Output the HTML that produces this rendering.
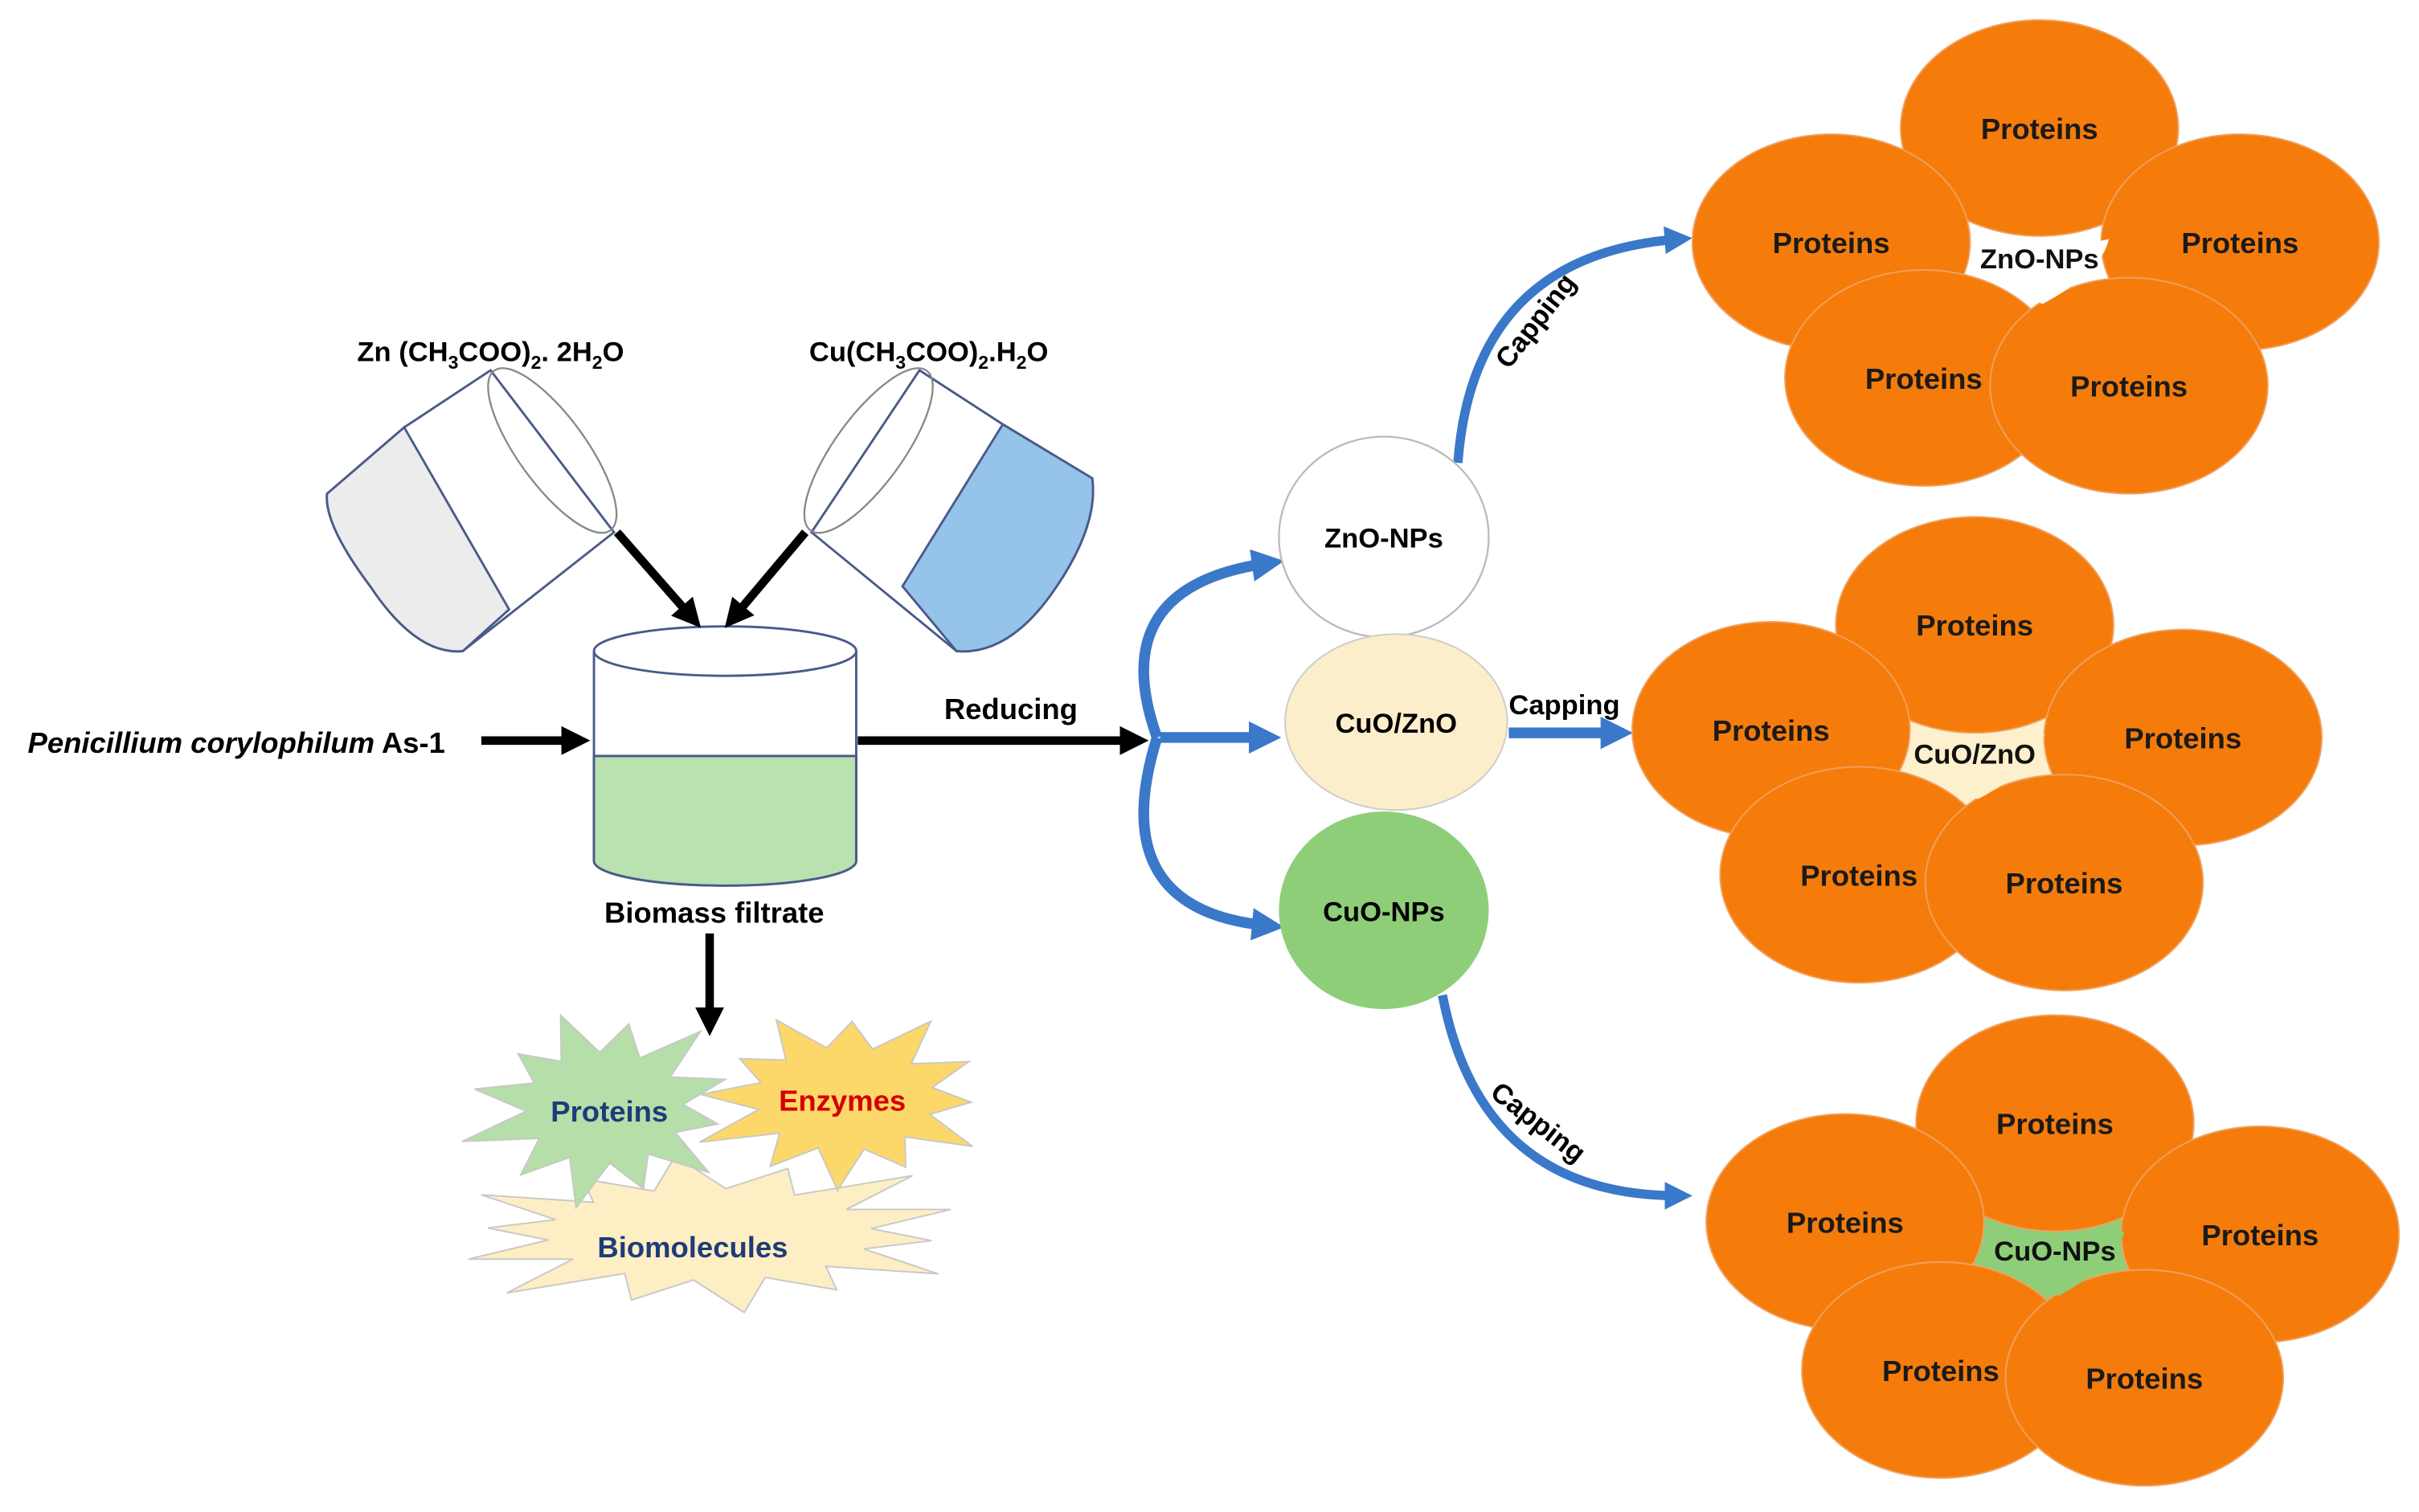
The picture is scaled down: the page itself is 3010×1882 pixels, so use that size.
<!DOCTYPE html>
<html><head><meta charset="utf-8"><style>
html,body{margin:0;padding:0;background:#fff}
svg{display:block}
text{font-family:"Liberation Sans",Arial,sans-serif;font-weight:bold}
</style></head><body>
<svg id="s" width="3010" height="1882" viewBox="0 0 1568 980" preserveAspectRatio="none" xmlns="http://www.w3.org/2000/svg">
<defs>
<marker id="ab" markerWidth="3.4" markerHeight="3.4" refX="2.2" refY="1.7" orient="auto" markerUnits="strokeWidth"><path d="M0,0 L3.4,1.7 L0,3.4 z" fill="#000"/></marker>
<marker id="abl" markerWidth="3" markerHeight="3" refX="1.5" refY="1.5" orient="auto" markerUnits="strokeWidth"><path d="M0,0 L3,1.5 L0,3 z" fill="#3a78c9"/></marker>
</defs>
<g id="stars"></g>

<!-- Left beaker -->
<path d="M262,277 L318,240 L398,345 L300,422 Q270,425 240,380 Q210,340 212,320 Z" fill="#fff" stroke="#4a5a8a" stroke-width="1.5"/>
<path d="M262,277 L330,395 L300,422 Q270,425 240,380 Q210,340 212,320 Z" fill="#ececec" stroke="#4a5a8a" stroke-width="1.5"/>
<ellipse cx="358" cy="292" rx="22" ry="64" transform="rotate(-36 358 292)" fill="none" stroke="#888" stroke-width="1.2"/>
<!-- Right beaker -->
<path d="M650,275 L596,240 L526,345 L620,422 Q655,425 685,380 Q712,340 708,310 Z" fill="#fff" stroke="#4a5a8a" stroke-width="1.5"/>
<path d="M650,275 L585,380 L620,422 Q655,425 685,380 Q712,340 708,310 Z" fill="#95c3ea" stroke="#4a5a8a" stroke-width="1.5"/>
<ellipse cx="563" cy="292" rx="22" ry="64" transform="rotate(36 563 292)" fill="none" stroke="#888" stroke-width="1.2"/>
<text x="318" y="234" font-size="18" text-anchor="middle">Zn (CH<tspan font-size="12" dy="5">3</tspan><tspan dy="-5">COO)</tspan><tspan font-size="12" dy="5">2</tspan><tspan dy="-5">. 2H</tspan><tspan font-size="12" dy="5">2</tspan><tspan dy="-5">O</tspan></text>
<text x="602" y="234" font-size="18" text-anchor="middle">Cu(CH<tspan font-size="12" dy="5">3</tspan><tspan dy="-5">COO)</tspan><tspan font-size="12" dy="5">2</tspan><tspan dy="-5">.H</tspan><tspan font-size="12" dy="5">2</tspan><tspan dy="-5">O</tspan></text>

<!-- cylinder -->
<path d="M385,422 L385,558 A85,16 0 0 0 555,558 L555,422" fill="#fff" stroke="#4a5a8a" stroke-width="1.5"/>
<path d="M385,490 L385,558 A85,16 0 0 0 555,558 L555,490 Z" fill="#b9e2b0" stroke="#4a5a8a" stroke-width="1.5"/>
<ellipse cx="470" cy="422" rx="85" ry="16" fill="#fff" stroke="#4a5a8a" stroke-width="1.5"/>

<!-- black arrows -->
<g stroke="#000" stroke-width="5.5" fill="none">
<line x1="400" y1="345" x2="450" y2="402" marker-end="url(#ab)"/>
<line x1="522" y1="345" x2="474" y2="402" marker-end="url(#ab)"/>
<line x1="312" y1="480" x2="376" y2="480" marker-end="url(#ab)"/>
<line x1="556" y1="480" x2="738" y2="480" marker-end="url(#ab)"/>
<line x1="460" y1="605" x2="460" y2="665" marker-end="url(#ab)"/>
</g>
<text x="18" y="488" font-size="19"><tspan font-style="italic">Penicillium corylophilum</tspan> As-1</text>
<text x="612" y="466" font-size="19">Reducing</text>
<text x="463" y="598" font-size="19" text-anchor="middle">Biomass filtrate</text>

<!-- blue arrows -->
<g fill="none" stroke="#3a78c9">
<path d="M750,478 Q715,380 822,365" stroke-width="7" marker-end="url(#abl)"/>
<path d="M750,478 Q715,590 822,600" stroke-width="7" marker-end="url(#abl)"/>
<line x1="752" y1="478" x2="820" y2="478" stroke-width="7" marker-end="url(#abl)"/>
<path d="M945,300 Q955,165 1088,155" stroke-width="6" marker-end="url(#abl)"/>
<line x1="978" y1="475" x2="1048" y2="475" stroke-width="7" marker-end="url(#abl)"/>
<path d="M935,645 Q960,775 1088,775" stroke-width="6" marker-end="url(#abl)"/>
</g>
<text font-size="18" transform="translate(978,240) rotate(-52)">Capping</text>
<text x="978" y="463" font-size="18">Capping</text>
<text font-size="18" transform="translate(965,710) rotate(38)">Capping</text>

<!-- small circles -->
<ellipse cx="897" cy="348" rx="68" ry="65" fill="#fff" stroke="#bbb" stroke-width="1.2"/>
<ellipse cx="905" cy="468" rx="72" ry="57" fill="#fdeecb" stroke="#ccc" stroke-width="1"/>
<ellipse cx="897" cy="590" rx="68" ry="64" fill="#8fce79"/>
<text x="897" y="355" font-size="18" text-anchor="middle">ZnO-NPs</text>
<text x="905" y="475" font-size="18" text-anchor="middle">CuO/ZnO</text>
<text x="897" y="597" font-size="18" text-anchor="middle">CuO-NPs</text>

<g id="flowers"></g>
</svg>
<script>
var NS="http://www.w3.org/2000/svg";
function el(p,n,a,t){var e=document.createElementNS(NS,n);for(var k in a)e.setAttribute(k,a[k]);if(t)e.textContent=t;p.appendChild(e);return e;}
var st=document.getElementById('stars');
function star(cx,cy,rx,ry,n,inner,fill,rot){var pts=[];for(var i=0;i<2*n;i++){var a=rot+Math.PI*i/n;var r=(i%2==0)?1:inner;var j=(i%2==0)?(0.85+0.3*((i*37)%7)/7):1;pts.push((cx+rx*r*j*Math.cos(a)).toFixed(1)+","+(cy+ry*r*j*Math.sin(a)).toFixed(1));}
el(st,'polygon',{points:pts.join(' '),fill:fill,stroke:'#c8c8c8','stroke-width':1});}
star(460,800,170,48,14,0.62,'#fdeec4',0.1);
star(392,718,88,62,12,0.58,'#b5dea8',0.2);
star(548,712,96,56,12,0.6,'#fcd86a',0.05);
el(st,'text',{x:395,y:727,'font-size':19,'text-anchor':'middle',fill:'#1f3b78'},'Proteins');
el(st,'text',{x:546,y:720,'font-size':19,'text-anchor':'middle',fill:'#d40000'},'Enzymes');
el(st,'text',{x:449,y:815,'font-size':19,'text-anchor':'middle',fill:'#1f3b78'},'Biomolecules');
var fl=document.getElementById('flowers');
function flower(c,cx,cy,lab,cfill){
 el(fl,'ellipse',{cx:cx,cy:cy,rx:55,ry:40,fill:cfill});
 c.forEach(function(p){el(fl,'ellipse',{cx:p[0],cy:p[1],rx:90,ry:70,fill:'#f57c0a',stroke:'#f0a060','stroke-width':1});});
 el(fl,'path',{d:'M'+(cx-42)+','+(cy-12)+' Q'+cx+','+(cy-2)+' '+(cx+45)+','+(cy-12)+' Q'+(cx+40)+','+(cy+10)+' '+(cx+2)+','+(cy+30)+' Q'+(cx-35)+','+(cy+10)+' '+(cx-42)+','+(cy-12)+'Z',fill:cfill});
 c.forEach(function(p){el(fl,'text',{x:p[0],y:p[1]+7,'font-size':19,'text-anchor':'middle',fill:'#1a1a1a'},'Proteins');});
 el(fl,'text',{x:cx,y:cy+7,'font-size':18,'text-anchor':'middle',fill:'#111'},lab);
}
flower([[1322,83],[1187,157],[1452,157],[1247,245],[1380,250]],1322,167,'ZnO-NPs','#ffffff');
flower([[1280,405],[1148,473],[1415,478],[1205,567],[1338,572]],1280,488,'CuO/ZnO','#fdf0cc');
flower([[1332,728],[1196,792],[1465,800],[1258,888],[1390,893]],1332,810,'CuO-NPs','#8fce79');
</script>
</body></html>
